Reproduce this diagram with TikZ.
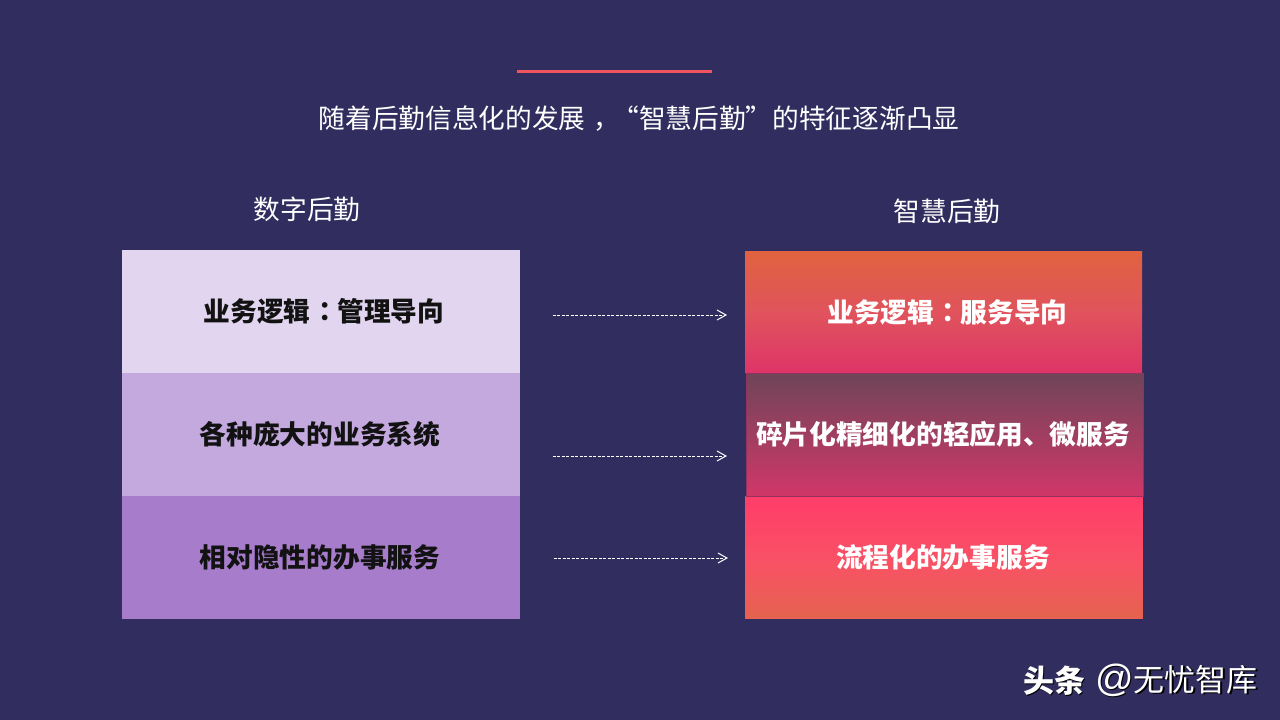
\documentclass[tikz,border=0pt]{standalone}
\usepackage{fontspec}
\usepackage{tikz}
\usetikzlibrary{arrows.meta}
\setmainfont{Noto Sans CJK SC}
\newfontfamily\atfont{Liberation Sans}
\definecolor{bgblue}{HTML}{312D5F}
\definecolor{barred}{HTML}{F0555F}
\definecolor{liluno}{HTML}{E2D5EF}
\definecolor{lildue}{HTML}{C4A9DF}
\definecolor{liltre}{HTML}{A67CCB}
\definecolor{orangetop}{HTML}{E0633F}
\definecolor{pinkmid}{HTML}{E0535C}
\definecolor{pinkbot}{HTML}{DE3568}
\definecolor{dulltop}{HTML}{6F4558}
\definecolor{dullbot}{HTML}{D03769}
\definecolor{hottop}{HTML}{FF3D69}
\definecolor{hotmid}{HTML}{FA5066}
\definecolor{hotbot}{HTML}{E5634F}
\definecolor{edgedark}{HTML}{7A2F60}
\newcommand{\boxsize}{\fontsize{26.7pt}{30pt}\selectfont}
\newcommand{\midcolon}{\kern7.5pt\raisebox{1pt}{：}\kern-7.5pt}
\newcommand{\midcomma}{\kern8pt，\kern-8pt}
\newcommand{\shadowed}[1]{\leavevmode\rlap{\kern1.5pt\raisebox{-1.5pt}{\color{black}#1}}#1}
\tikzset{
    leftbox/.style={minimum width=398pt,minimum height=123pt,inner sep=0pt,text=black!93,font=\boxsize\bfseries},
    rightbox/.style={inner sep=0pt,text=white,font=\boxsize\bfseries},
    headline/.style={text=white,inner sep=0pt,font=\boxsize},
    dasharrow/.style={white,line width=1pt,-{Straight Barb[length=9pt,width=10pt]},dash pattern=on 3.2pt off 1.3pt},
    mark text/.style={inner sep=0pt,text=white,font=\fontsize{31pt}{34pt}\selectfont},
}
\begin{document}
\begin{tikzpicture}[x=1pt,y=-1pt,line cap=butt]
    \useasboundingbox (0,0) rectangle (1280,720);
    \fill[bgblue] (0,0) rectangle (1280,720);
    % title
    \fill[barred] (517,69.5) rectangle (712,73);
    \node[headline] (title) at (639,119) {随着后勤信息化的发展\midcomma“智慧后勤”的特征逐渐凸显};
    \node[headline] (digital) at (307,209) {数字后勤};
    \node[headline] (smart) at (947,211) {智慧后勤};
    % left column
    \node[leftbox,fill=liluno] (logicl) at (321,311.5) {\hspace*{6pt}业务逻辑\midcolon 管理导向};
    \node[leftbox,fill=lildue] (systeml) at (321,434.5) {各种庞大的业务系统\kern2pt};
    \node[leftbox,fill=liltre] (servl) at (321,557.5) {相对隐性的办事服务\kern2pt};
    % right column
    \node[rightbox,minimum width=397pt,minimum height=122pt,top color=orangetop,bottom color=pinkbot,middle color=pinkmid] (logicr) at (943.5,312) {\hspace*{8pt}业务逻辑\midcolon 服务导向};
    \node[rightbox,minimum width=396.4pt,minimum height=122pt,top color=dulltop,bottom color=dullbot] (systemr) at (945,434.6) {碎片化精细化的轻应用、微服务\kern4pt};
    \node[rightbox,minimum width=397.8pt,minimum height=122.8pt,top color=hottop,bottom color=hotbot,middle color=hotmid] (servr) at (943.9,557.4) {流程化的办事服务\kern2pt};
    \draw[edgedark,line width=.7pt] (logicr.south west) -- (logicr.south east);
    \draw[edgedark!70!dullbot,line width=.4pt] (systemr.north west) rectangle (systemr.south east);
    % arrows
    \coordinate (a1) at (552.5,315);
    \coordinate (b1) at (727,315);
    \coordinate (a2) at (552.5,456);
    \coordinate (b2) at (727,456);
    \coordinate (a3) at (553.5,558);
    \coordinate (b3) at (728,558);
    \foreach \i in {1,2,3}
        \draw[dasharrow] (a\i) -- (b\i);
    % watermark
    \node[mark text,anchor=west,font=\fontsize{31pt}{34pt}\selectfont\bfseries] (toutiao) at (1023,681) {\shadowed{头条}};
    \node[mark text,anchor=east] (wuyou) at (1258,681) {\shadowed{{\atfont\fontsize{38pt}{34pt}\selectfont @}无忧智库}};
\end{tikzpicture}
\end{document}
